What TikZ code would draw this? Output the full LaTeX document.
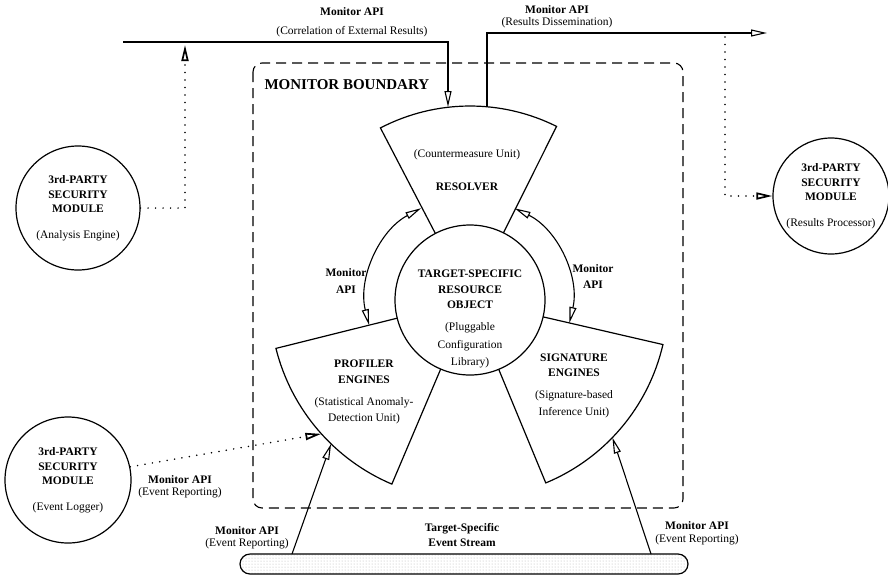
\documentclass[tikz,border=0pt]{standalone}
\usepackage{fontspec}
\setmainfont{Liberation Serif}
\usetikzlibrary{arrows.meta,patterns}

\tikzset{
  lbl/.style={font=\fontsize{11.5}{14}\selectfont, align=center, inner sep=0pt},
  modcircle/.style={draw, circle, line width=1.2pt, inner sep=0pt, align=center, font=\fontsize{11.5}{14.5}\selectfont\bfseries},
  tip/.style={-{Triangle[open,length=16pt,width=7pt]}},
  dtip/.style={{Triangle[open,length=16pt,width=7pt]}-{Triangle[open,length=16pt,width=7pt]}},
  dotline/.style={line width=1.7pt, dash pattern=on 0pt off 7.5pt, line cap=round},
}

\begin{document}
\begin{tikzpicture}[x=1pt,y=1pt,line width=1.1pt]
\useasboundingbox (0,0) rectangle (888,-579);
% monitor boundary
\draw[dash pattern=on 10pt off 6pt, rounded corners=9pt] (253,-63) rectangle (683,-508);
\node[anchor=west, inner sep=0pt, font=\fontsize{15}{18}\selectfont\bfseries] (mbtitle) at (264,-85) {MONITOR BOUNDARY};
% resource object and the three units
\coordinate (ctr) at (470,-300);
\node[draw, circle, minimum size=150pt, line width=1.2pt] (tsro) at (ctr) {};
\draw[shift={(ctr)}, line width=1.2pt] (63.5:75) -- (63.5:194) arc[start angle=63.5, end angle=117.5, radius=194] -- (117.5:75);
\draw[shift={(ctr)}, line width=1.2pt] (194:75) -- (194:200) arc[start angle=194, end angle=247, radius=200] -- (247:75);
\draw[shift={(ctr)}, line width=1.2pt] (292.5:75) -- (292.5:198) arc[start angle=292.5, end angle=347, radius=198] -- (347:75);
\node[lbl, font=\fontsize{11.5}{15.5}\selectfont] (tsrotext) at (470,-319) {\textbf{TARGET-SPECIFIC}\\\textbf{RESOURCE}\\\textbf{OBJECT}\\[6.5pt](Pluggable\\[2pt]Configuration\\[2pt]Library)};
\node[lbl] (resolver) at (467,-170) {(Countermeasure Unit)\\[19pt]\textbf{RESOLVER}};
\node[lbl, font=\fontsize{11.5}{16}\selectfont] (profiler) at (364,-392) {\textbf{PROFILER}\\\textbf{ENGINES}\\[6pt](Statistical Anomaly-\\Detection Unit)};
\node[lbl, font=\fontsize{11.5}{15}\selectfont] (signature) at (574,-386) {\textbf{SIGNATURE}\\\textbf{ENGINES}\\[7pt](Signature-based\\[2pt]Inference Unit)};
% third-party modules
\node[modcircle, minimum size=124pt] (analysis) at (78,-208) {3rd-PARTY\\SECURITY\\MODULE\\[11pt]{\mdseries(Analysis Engine)}};
\node[modcircle, minimum size=116pt] (results) at (831,-196) {3rd-PARTY\\SECURITY\\MODULE\\[11pt]{\mdseries(Results Processor)}};
\node[modcircle, minimum size=126pt] (logger) at (68,-480) {3rd-PARTY\\SECURITY\\MODULE\\[11pt]{\mdseries(Event Logger)}};
% event stream
\node[draw, rounded corners=10pt, minimum width=448pt, minimum height=20pt, line width=1.2pt, pattern=dots, pattern color=black!30] (stream) at (464,-564) {};
% labels
\node[lbl] (corrlbl) at (352,-22) {\textbf{Monitor API}\\[5pt](Correlation of External Results)};
\node[lbl] (disslbl) at (557,-16.5) {\textbf{Monitor API}\\[-1.5pt](Results Dissemination)};
\node[lbl] (apil) at (346,-281) {\textbf{Monitor}\\[3pt]\textbf{API}};
\node[lbl] (apir) at (593,-277) {\textbf{Monitor}\\[2pt]\textbf{API}};
\node[lbl] (logapi) at (180,-487) {\textbf{Monitor API}\\[-2pt](Event Reporting)};
\node[lbl] (evlapi) at (247,-538) {\textbf{Monitor API}\\[-2pt](Event Reporting)};
\node[lbl] (streamlbl) at (462,-535) {\textbf{Target-Specific}\\[1pt]\textbf{Event Stream}};
\node[lbl] (evrapi) at (697,-533) {\textbf{Monitor API}\\[-1pt](Event Reporting)};
% connectors
\path[shift={(ctr)}] (118:104) coordinate (arcl) (64:102) coordinate (arcr)
  (222:200) coordinate (logtip) (226:200) coordinate (proftip) (-44:198) coordinate (sigtip);
\coordinate (corrsrc) at (123,-42);
\coordinate (corrtip) at (448,-107);
\coordinate (dissrc) at (487,-107);
\coordinate (disend) at (767,-33);
\coordinate (aetip) at (185,-45);
\coordinate (rptap) at (725,-37);
\coordinate (evl) at (292,-554);
\coordinate (evr) at (651,-554);
\draw[tip] (corrsrc) -| (corrtip);
\draw[tip] (dissrc) |- (disend);
\draw[dotline, tip] (analysis.east) -| (aetip);
\draw[dotline, tip] (rptap) |- (results.west);
\draw[dotline, tip] (logger.12) -- (logtip);
\draw[tip] (evl) -- (proftip);
\draw[tip] (evr) -- (sigtip);
\draw[dtip] (arcl) arc[start angle=118, end angle=194, radius=104];
\draw[dtip] (arcr) arc[start angle=64, end angle=-13, radius=102];
\end{tikzpicture}
\end{document}
